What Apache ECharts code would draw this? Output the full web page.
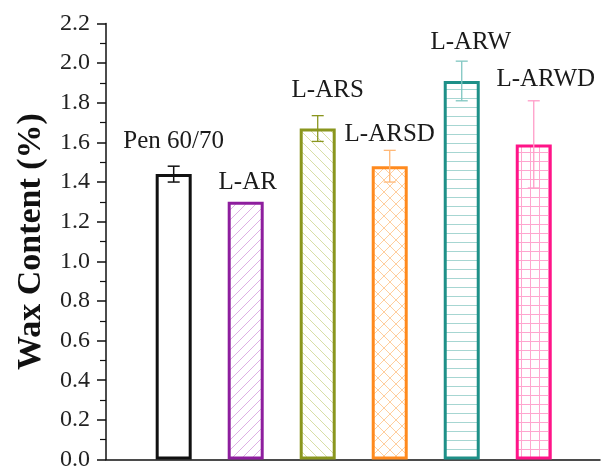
<!DOCTYPE html>
<html>
<head>
<meta charset="utf-8">
<script src="https://cdn.jsdelivr.net/npm/echarts@6/dist/echarts.min.js"></script>
<style>
  html, body { margin: 0; padding: 0; background: #fff; }
  #chart { width: 604px; height: 472px; }
</style>
</head>
<body>
<div id="chart"></div>
<script>
// Sample names and measured wax content (%) with standard deviations
const samples = ['Pen 60/70', 'L-AR', 'L-ARS', 'L-ARSD', 'L-ARW', 'L-ARWD'];
const waxContent = [1.44, 1.30, 1.67, 1.48, 1.91, 1.59];
const waxError = [0.04, 0, 0.065, 0.08, 0.10, 0.22];
const yTicks = [0, 0.2, 0.4, 0.6, 0.8, 1.0, 1.2, 1.4, 1.6, 1.8, 2.0, 2.2];

// Per-sample styling: outline, hatch colour, hatch kind, error bar colour
const outline = ['#111111', '#8E1E9E', '#8A961E', '#FF8A1E', '#1E9088', '#FF1488'];
const hatchCol = [null, '#DDB0E4', '#D8DEA6', '#FFCE9E', '#A6D6D2', '#FFA6CF'];
const hatchKind = [null, 'fwd', 'back', 'cross', 'horiz', 'grid'];
const errCol = ['#111111', '#8E1E9E', '#8A961E', '#FFB877', '#7FC6C1', '#FF9DC8'];
// label centre offset (px) from the top of the error bar
const labelShift = [[0, -25], [2, -19], [10, -25], [0, -16], [9, -19], [12, -21]];

function hatch(kind, color) {
  const s = kind === 'horiz' ? 9 : (kind === 'grid' ? 8.5 : (kind === 'cross' ? 12 : 10));
  const c = document.createElement('canvas');
  const n = Math.round(s);
  c.width = n; c.height = n;
  const g = c.getContext('2d');
  g.fillStyle = '#fff';
  g.fillRect(0, 0, n, n);
  g.strokeStyle = color;
  g.lineWidth = 1;
  g.beginPath();
  if (kind === 'fwd' || kind === 'cross') {
    g.moveTo(-1, n + 1); g.lineTo(n + 1, -1);
    g.moveTo(-1, 1); g.lineTo(1, -1);
    g.moveTo(n - 1, n + 1); g.lineTo(n + 1, n - 1);
  }
  if (kind === 'back' || kind === 'cross') {
    g.moveTo(-1, -1); g.lineTo(n + 1, n + 1);
    g.moveTo(n - 1, -1); g.lineTo(n + 1, 1);
    g.moveTo(-1, n - 1); g.lineTo(1, n + 1);
  }
  if (kind === 'horiz' || kind === 'grid') {
    g.moveTo(0, n - 0.5); g.lineTo(n, n - 0.5);
  }
  if (kind === 'grid') {
    g.moveTo(n - 0.5, 0); g.lineTo(n - 0.5, n);
  }
  g.stroke();
  return c;
}

const barData = waxContent.map((v, i) => ({
  value: [i + 1, v],
  itemStyle: {
    color: hatchKind[i] ? { image: hatch(hatchKind[i], hatchCol[i]), repeat: 'repeat' } : '#fff',
    borderColor: outline[i],
    borderWidth: 3
  }
}));

const errData = waxContent.map((v, i) => [i + 1, v, waxError[i], i]);

const serif = 'Liberation Serif';
const chart = echarts.init(document.getElementById('chart'), null, { renderer: 'canvas' });

chart.setOption({
  animation: false,
  grid: { left: 106, right: 4, top: 23.5, bottom: 12.5 },
  xAxis: {
    type: 'value',
    min: 0.06,
    max: 6.92,
    axisLine: { show: true, onZero: false, lineStyle: { color: '#111', width: 1.5 } },
    axisTick: { show: false },
    axisLabel: { show: false },
    splitLine: { show: false }
  },
  yAxis: {
    type: 'value',
    min: yTicks[0],
    max: yTicks[yTicks.length - 1],
    interval: 0.2,
    name: 'Wax Content (%)',
    nameLocation: 'middle',
    nameGap: 58,
    nameTextStyle: { fontFamily: serif, fontWeight: 'bold', fontSize: 34, color: '#111' },
    axisLine: { show: true, lineStyle: { color: '#111', width: 1.5 } },
    axisTick: { show: true, length: 9, lineStyle: { color: '#111', width: 1.5 } },
    minorTick: { show: true, splitNumber: 2, length: 6, lineStyle: { color: '#111', width: 1.2 } },
    axisLabel: {
      margin: 16,
      fontFamily: serif,
      fontSize: 24,
      color: '#222',
      formatter: v => v.toFixed(1)
    },
    splitLine: { show: false }
  },
  series: [
    {
      type: 'bar',
      barWidth: 36,
      data: barData
    },
    {
      type: 'custom',
      data: errData,
      z: 5,
      renderItem: function (params, api) {
        const x = api.value(0), v = api.value(1), e = api.value(2), i = api.value(3);
        const top = api.coord([x, v + e]);
        const bot = api.coord([x, v - e]);
        const cap = 6;
        const children = [];
        if (e > 0) {
          const st = { stroke: errCol[i], lineWidth: i === 0 ? 1.5 : 1.3 };
          children.push(
            { type: 'line', shape: { x1: top[0], y1: top[1], x2: bot[0], y2: bot[1] }, style: st },
            { type: 'line', shape: { x1: top[0] - cap, y1: top[1], x2: top[0] + cap, y2: top[1] }, style: st },
            { type: 'line', shape: { x1: bot[0] - cap, y1: bot[1], x2: bot[0] + cap, y2: bot[1] }, style: st }
          );
        }
        children.push({
          type: 'text',
          x: top[0] + labelShift[i][0],
          y: top[1] + labelShift[i][1],
          style: {
            text: samples[i],
            fill: '#1a1a1a',
            fontFamily: serif,
            fontSize: 25,
            align: 'center',
            verticalAlign: 'middle'
          }
        });
        return { type: 'group', children: children };
      }
    }
  ]
});
</script>
</body>
</html>
